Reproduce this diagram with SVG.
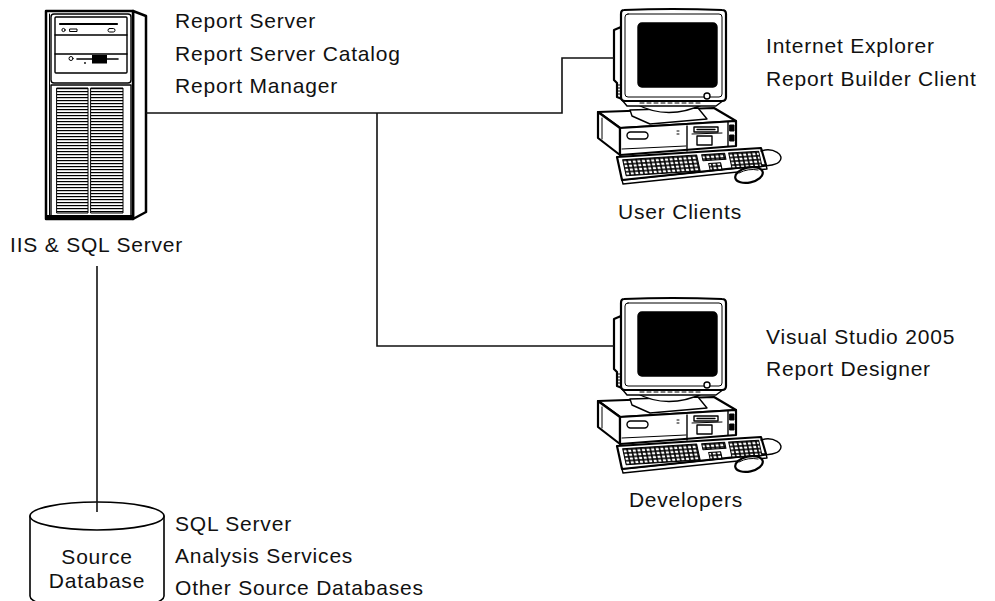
<svg xmlns="http://www.w3.org/2000/svg" xmlns:xlink="http://www.w3.org/1999/xlink" width="995" height="601" viewBox="0 0 995 601">
  <style>
    .t { font-family: 'Liberation Sans', Arial, sans-serif; font-size: 21px; letter-spacing: 0.8px; fill: #111; }
    .c { text-anchor: middle; }
    .ln { stroke: #000; stroke-linejoin: round; stroke-linecap: round; }
    .thick { stroke-width: 2.2; }
    .mid { stroke-width: 1.4; }
    .thin { stroke-width: 1; }
    .wire { fill: none; stroke: #111; stroke-width: 1.6; }
  </style>
  <defs>
    <!-- horizontal slats of the tower grille -->
    <pattern id="slats" patternUnits="userSpaceOnUse" x="0" y="88" width="40" height="3">
      <rect x="0" y="0" width="40" height="1.2" fill="#000"/>
    </pattern>
    <!-- keyboard keycaps -->
    <pattern id="keys" patternUnits="userSpaceOnUse" width="4.6" height="3.8">
      <rect width="4.6" height="3.8" fill="#000"/>
      <rect x="0.8" y="0.7" width="3" height="2.3" fill="#fff"/>
    </pattern>

    <!-- desktop computer: case, keyboard, mouse and CRT monitor -->
    <g id="pc" class="ln">
      <!-- case -->
      <path d="M598,112 L714,108 L736,121 L620,128 Z" fill="#fff" class="thick"/>
      <path d="M598,112 L620,128 L620,155 L598,138 Z" fill="#fff" class="thick"/>
      <path d="M620,128 L736,121 L736,146 L620,155 Z" fill="#fff" class="thick"/>
      <line x1="602" y1="118" x2="602" y2="139" class="thin"/>
      <line x1="622" y1="149" x2="686" y2="146" class="thin"/>
      <rect x="627" y="132" width="21" height="7" rx="3.5" fill="none" class="mid"/>
      <line x1="677" y1="131" x2="679" y2="131" class="thin"/>
      <line x1="677" y1="134" x2="679" y2="134" class="thin"/>
      <line x1="687" y1="126" x2="687" y2="151" class="mid"/>
      <rect x="694" y="127" width="24" height="5" fill="#fff" class="mid"/>
      <line x1="697" y1="129.5" x2="715" y2="129.5" class="mid"/>
      <line x1="692" y1="134" x2="722" y2="133" class="thin"/>
      <rect x="697" y="136" width="15" height="9" fill="#fff" class="mid"/>
      <line x1="728" y1="122" x2="728" y2="146" class="mid"/>
      <rect x="730" y="125" width="4" height="6" fill="#000" class="thin"/>
      <rect x="730" y="135" width="4" height="6" fill="#000" class="thin"/>

      <!-- keyboard -->
      <path d="M622,180 L623,184 L767,169 L766,165 Z" fill="#fff" class="mid"/>
      <path d="M617,157 L761,148 L766,165 L622,180 Z" fill="#fff" class="thick"/>
      <g transform="matrix(1,-0.0625,0.22,1,617,157)">
        <rect x="5" y="3" width="74" height="16" fill="url(#keys)" class="thin"/>
        <rect x="84" y="3" width="23" height="6" fill="url(#keys)" class="thin"/>
        <rect x="89" y="12" width="12" height="7" fill="url(#keys)" class="thin"/>
        <rect x="111" y="3" width="30" height="15" fill="url(#keys)" class="thin"/>
      </g>

      <!-- mouse and cable -->
      <path d="M761,151 C773,147 786,155 779,162 C774,167 765,164 758,168" fill="none" class="mid"/>
      <ellipse cx="749" cy="175" rx="14" ry="7.5" transform="rotate(-12 749 175)" fill="#fff" class="thick"/>
      <path d="M739,173 Q748,168 758,170" fill="none" class="thin"/>

      <!-- monitor stand -->
      <path d="M630,110 L698,108 L707,119 L650,124 L632,116 Z" fill="#fff" class="mid"/>
      <path d="M636,104 Q668,121 704,104 Z" fill="#fff" class="mid"/>
      <!-- housing behind the bezel -->
      <path d="M621,27 L614,30 L614,80 L617,83 L617,97 L622,99 Z" fill="#fff" class="thick"/>
      <g class="thin">
        <line x1="617" y1="85" x2="621" y2="85"/>
        <line x1="617" y1="88" x2="621" y2="88"/>
        <line x1="617" y1="91" x2="621" y2="91"/>
        <line x1="617" y1="94" x2="621" y2="94"/>
      </g>
      <path d="M622,100 L627,106 L716,106 L724,100 Z" fill="#fff" class="mid"/>
      <path d="M640,103 H700" fill="none" stroke-dasharray="4 3" class="thin"/>
      <!-- bezel and screen -->
      <path d="M624,10 Q672,8 722,10 Q726,10 726,14 L726,97 Q726,101 722,101 L625,101 Q621,101 621,97 L621,14 Q621,10 624,10 Z" fill="#fff" class="thick"/>
      <rect x="625" y="14" width="97" height="83" rx="3" fill="none" class="thin"/>
      <rect x="638" y="23" width="79" height="64" rx="4" fill="#000" class="mid"/>
      <circle cx="707" cy="96" r="3" fill="#fff" class="mid"/>
    </g>
  </defs>

  <!-- web / database server tower -->
  <g id="iis-sql-server" class="ln">
    <path d="M133,11 L146,16 L146,212 L133,219 Z" fill="#fff" stroke-width="2.5"/>
    <rect x="46" y="11" width="87" height="208" fill="#fff" stroke-width="2.5"/>
    <line x1="49.5" y1="14" x2="49.5" y2="216" class="thin"/>
    <rect x="46" y="215" width="87" height="4" fill="#000" stroke="none"/>
    <!-- drive bays -->
    <rect x="51" y="14" width="80" height="69" rx="3" fill="none" class="mid"/>
    <rect x="55" y="17" width="72" height="56" rx="1" fill="none" class="mid"/>
    <line x1="60" y1="24" x2="117" y2="24" stroke-width="2.2"/>
    <circle cx="63.5" cy="30" r="1.6" fill="none" class="thin"/>
    <rect x="70" y="29" width="7" height="2.5" fill="none" class="thin"/>
    <rect x="108" y="28.5" width="7" height="3.5" rx="1.7" fill="none" class="thin"/>
    <line x1="55" y1="35" x2="127" y2="35" class="mid"/>
    <line x1="55" y1="54" x2="127" y2="54" class="mid"/>
    <circle cx="71" cy="58.5" r="2" fill="none" class="thin"/>
    <line x1="77" y1="59" x2="118" y2="59" stroke-width="1.6"/>
    <rect x="92" y="55" width="15" height="8.5" fill="#000" stroke="none"/>
    <circle cx="85" cy="63" r="0.9" fill="#000" stroke="none"/>
    <!-- grille -->
    <rect x="51" y="85" width="80" height="131" fill="none" class="mid"/>
    <rect x="57" y="88" width="31" height="125" fill="url(#slats)" class="thin"/>
    <rect x="91" y="88" width="32" height="125" fill="url(#slats)" class="thin"/>
    <text class="t" x="10" y="252" stroke="none">IIS &amp; SQL Server</text>
    <text class="t" x="175" y="28" stroke="none">Report Server</text>
    <text class="t" x="175" y="61" stroke="none">Report Server Catalog</text>
    <text class="t" x="175" y="93" stroke="none">Report Manager</text>
  </g>

  <!-- workstation for report users -->
  <g id="user-clients">
    <use xlink:href="#pc" href="#pc"/>
    <text class="t c" x="680" y="219">User Clients</text>
    <text class="t" x="766" y="53">Internet Explorer</text>
    <text class="t" x="766" y="86">Report Builder Client</text>
  </g>

  <!-- workstation for report authors -->
  <g id="developers">
    <use xlink:href="#pc" href="#pc" transform="translate(0,289)"/>
    <text class="t c" x="686" y="507">Developers</text>
    <text class="t" x="766" y="344">Visual Studio 2005</text>
    <text class="t" x="766" y="376">Report Designer</text>
  </g>

  <!-- data source cylinder -->
  <g id="source-database" class="ln">
    <path d="M30,516 V596 A67,14 0 0 0 164,596 V516" fill="#fff" stroke-width="1.6"/>
    <ellipse cx="97" cy="516" rx="67" ry="14" fill="#fff" stroke-width="1.6"/>
    <text class="t c" x="97" y="564" stroke="none">Source</text>
    <text class="t c" x="97" y="588" stroke="none">Database</text>
    <text class="t" x="175" y="531" stroke="none">SQL Server</text>
    <text class="t" x="175" y="563" stroke="none">Analysis Services</text>
    <text class="t" x="175" y="595" stroke="none">Other Source Databases</text>
  </g>

  <!-- network links -->
  <g id="connectors" class="wire">
    <path d="M146,113 H562 V58 H614"/>
    <path d="M377,113 V346 H614"/>
    <path d="M97,266 V512"/>
  </g>
</svg>
